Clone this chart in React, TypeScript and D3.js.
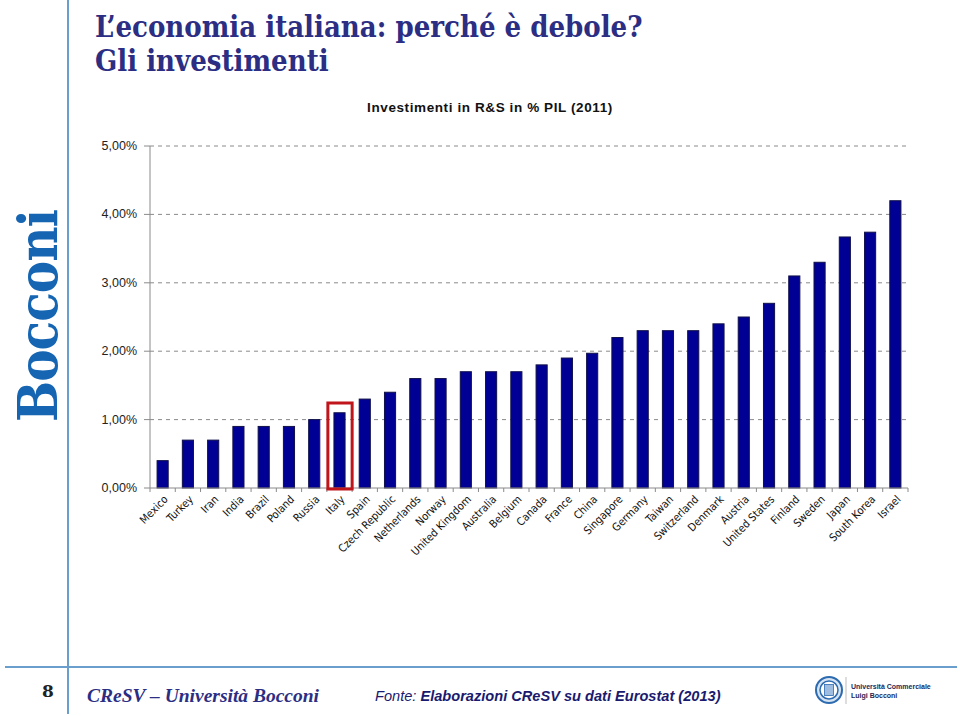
import React from "react";
import * as d3 from "d3";

const countries = ["Mexico","Turkey","Iran","India","Brazil","Poland","Russia","Italy","Spain","Czech Republic","Netherlands","Norway","United Kingdom","Australia","Belgium","Canada","France","China","Singapore","Germany","Taiwan","Switzerland","Denmark","Austria","United States","Finland","Sweden","Japan","South Korea","Israel"];
const values = [0.4,0.7,0.7,0.9,0.9,0.9,1.0,1.1,1.3,1.4,1.6,1.6,1.7,1.7,1.7,1.8,1.9,1.97,2.2,2.3,2.3,2.3,2.4,2.5,2.7,3.1,3.3,3.67,3.74,4.2];
const yTicks = [0,1,2,3,4,5];
const highlighted = "Italy";

export default function App() {
  const W = 960, H = 716;
  const x0 = 150, x1 = 908, yTop = 146, yBot = 488;
  const x = d3.scaleBand<string>().domain(countries).range([x0, x1]).paddingInner(0.56).paddingOuter(0.28);
  const xb = d3.scaleBand<string>().domain(countries).range([x0, x1]);
  const y = d3.scaleLinear().domain([0, 5]).range([yBot, yTop]);
  const fmt = (v: number) => v.toFixed(2).replace(".", ",") + "%";
  const navy = "#2B2E83";
  const lineBlue = "#6A9FCD";
  return (
    <svg width={W} height={H} style={{ position: "absolute", left: 0, top: 0, background: "#fff" }}>
      <rect width={W} height={H} fill="#fff" />
      {/* frame lines */}
      <line x1={68} x2={68} y1={0} y2={714} stroke={lineBlue} strokeWidth={2} />
      <line x1={5} x2={957} y1={667} y2={667} stroke={lineBlue} strokeWidth={2} />
      {/* Bocconi vertical logo */}
      <text transform="translate(57,316) rotate(-90)" textAnchor="middle" fontFamily="'DejaVu Serif', serif" fontStretch="condensed" fontWeight="bold" fontSize={54} fill="#1565B3" letterSpacing={-1}>Bocconi</text>
      {/* titles */}
      <text x={95} y={37} fontFamily="'DejaVu Serif', serif" fontStretch="condensed" fontWeight="bold" fontSize={29} fill={navy}>L’economia italiana: perché è debole?</text>
      <text x={95} y={71} fontFamily="'DejaVu Serif', serif" fontStretch="condensed" fontWeight="bold" fontSize={29} fill={navy}>Gli investimenti</text>
      <text x={490} y={112} textAnchor="middle" fontFamily="'Liberation Sans', Arial, sans-serif" fontWeight="bold" fontSize={13.5} fill="#111" letterSpacing={0.6}>Investimenti in R&amp;S in % PIL (2011)</text>
      {/* gridlines and y axis */}
      {yTicks.map(t => (
        <g key={t}>
          {t > 0 && <line x1={x0} x2={x1} y1={y(t)} y2={y(t)} stroke="#8a8a8a" strokeDasharray="4,4" />}
          <line x1={144} x2={x0} y1={y(t)} y2={y(t)} stroke="#8a8a8a" />
          <text x={137} y={y(t) + 4} textAnchor="end" fontFamily="'Liberation Sans', Arial, sans-serif" fontSize={12.5} fill="#222">{fmt(t)}</text>
        </g>
      ))}
      <line x1={x0} x2={x0} y1={yTop} y2={yBot} stroke="#8a8a8a" />
      {/* bars */}
      {countries.map((c, i) => (
        <rect key={c} x={x(c)!} y={y(values[i])} width={x.bandwidth()} height={yBot - y(values[i])} fill="#000094" stroke="#10104a" strokeWidth={1} />
      ))}
      <line x1={x0} x2={x1} y1={yBot} y2={yBot} stroke="#8a8a8a" />
      {countries.map(c => (
        <line key={"t" + c} x1={xb(c)! + xb.bandwidth()} x2={xb(c)! + xb.bandwidth()} y1={yBot} y2={yBot + 4} stroke="#8a8a8a" />
      ))}
      <line x1={x0} x2={x0} y1={yBot} y2={yBot + 4} stroke="#8a8a8a" />
      {/* highlight */}
      <rect x={xb(highlighted)! + 1} y={403} width={xb.bandwidth() - 1} height={yBot + 1 - 403} fill="none" stroke="#C0151B" strokeWidth={3} />
      {/* x labels */}
      {countries.map(c => {
        const cx = xb(c)! + xb.bandwidth() / 2 + 6;
        return (
          <text key={"l" + c} transform={`translate(${cx},${yBot + 12}) rotate(-45)`} textAnchor="end" fontFamily="'DejaVu Sans', Tahoma, sans-serif" fontStretch="condensed" fontSize={11} fill="#111">{c}</text>
        );
      })}
      {/* footer */}
      <text x={48} y={697} textAnchor="middle" fontFamily="'DejaVu Serif', serif" fontWeight="bold" fontSize={17} fill="#222">8</text>
      <text x={87} y={702} fontFamily="'Liberation Serif', serif" fontStyle="italic" fontWeight="bold" fontSize={19.5} fill={navy}>CReSV – Università Bocconi</text>
      <text x={375} y={701} fontFamily="'Liberation Sans', Arial, sans-serif" fontStyle="italic" fontSize={14.6} fill="#1a1a6e">
        <tspan>Fonte: </tspan><tspan fontWeight="bold">Elaborazioni CReSV su dati Eurostat (2013)</tspan>
      </text>
      {/* seal logo */}
      <g transform="translate(829,690)">
        <circle r={13} fill="#d5e3f2" stroke="#2d6bb0" strokeWidth={2} />
        <circle r={9} fill="#fff" stroke="#2d6bb0" strokeWidth={1.5} />
        <rect x={-4.5} y={-5.5} width={9} height={11} fill="#9fbde0" stroke="#2d6bb0" strokeWidth={0.8} />
      </g>
      <line x1={846} x2={846} y1={677} y2={704} stroke="#bbb" />
      <text x={851} y={689} fontFamily="'Liberation Sans', Arial, sans-serif" fontWeight="bold" fontSize={7} fill="#1a2a5a">Università Commerciale</text>
      <text x={851} y={698} fontFamily="'Liberation Sans', Arial, sans-serif" fontWeight="bold" fontSize={7} fill="#1a2a5a">Luigi Bocconi</text>
    </svg>
  );
}
